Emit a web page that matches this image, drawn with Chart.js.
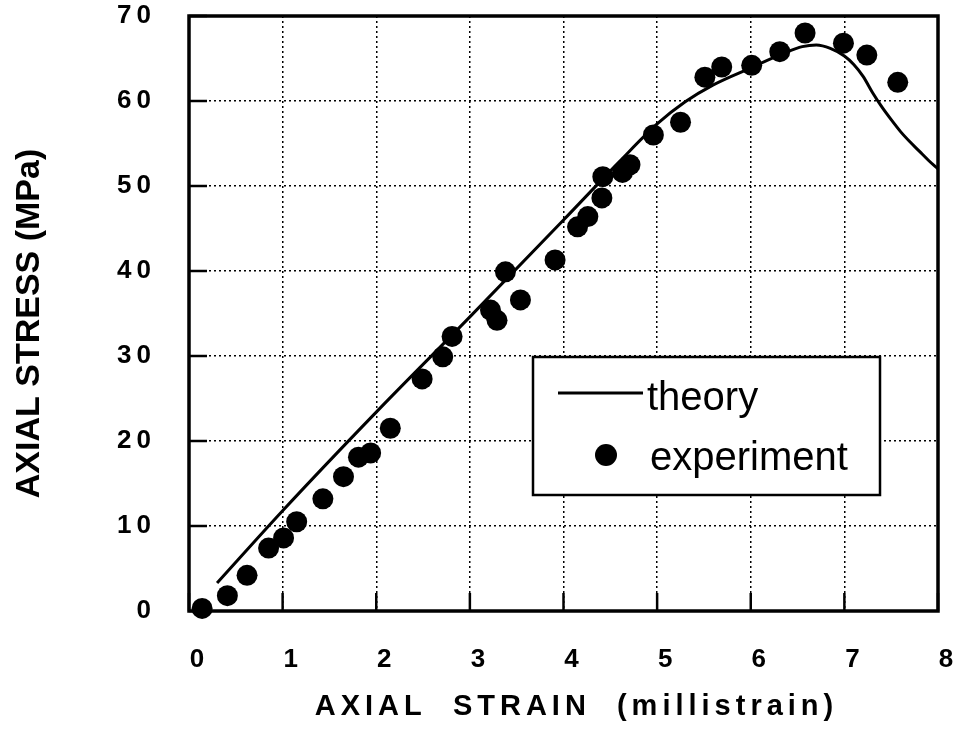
<!DOCTYPE html>
<html>
<head>
<meta charset="utf-8">
<script src="https://cdn.jsdelivr.net/npm/chart.js@4/dist/chart.umd.min.js"></script>
<style>
html,body{margin:0;padding:0;background:#fff;}
#wrap{width:959px;height:740px;}
</style>
</head>
<body>
<div id="wrap"><canvas id="c" width="959" height="740"></canvas></div>
<script>
// ---- data ----
const strainTheory = [0.3, 1, 2, 3, 4, 4.6, 5, 5.3, 5.6, 6, 6.35, 6.55, 6.7, 6.85, 7.0, 7.1, 7.2, 7.3, 7.4, 7.5, 7.6, 7.7, 7.8, 7.9, 8];
const stressTheory = [3.3, 11.8, 23.4, 34.6, 46.0, 52.9, 57.3, 59.9, 61.9, 63.9, 65.6, 66.4, 66.6, 66.2, 65.3, 64.3, 62.9, 61.0, 59.3, 57.8, 56.4, 55.2, 54.1, 53.0, 52.0];
const strainExp = [0.14, 0.41, 0.62, 0.85, 1.01, 1.15, 1.43, 1.65, 1.81, 1.94, 2.15, 2.49, 2.71, 2.81, 3.22, 3.29, 3.38, 3.54, 3.91, 4.15, 4.26, 4.41, 4.42, 4.63, 4.71, 4.96, 5.25, 5.51, 5.69, 6.01, 6.31, 6.58, 6.99, 7.24, 7.57];
const stressExp = [0.3, 1.8, 4.2, 7.4, 8.6, 10.5, 13.2, 15.8, 18.1, 18.6, 21.5, 27.3, 29.9, 32.3, 35.4, 34.2, 39.9, 36.6, 41.3, 45.2, 46.4, 48.6, 51.1, 51.6, 52.5, 56.0, 57.5, 62.8, 64.0, 64.2, 65.8, 68.0, 66.8, 65.4, 62.2];
const xTicks = [0, 1, 2, 3, 4, 5, 6, 7, 8];
const yTicks = [0, 10, 20, 30, 40, 50, 60, 70];
const seriesNames = ['theory', 'experiment'];
const xTitle = 'AXIAL  STRAIN  (millistrain)';
const yTitle = 'AXIAL STRESS (MPa)';

const FONT = '"Liberation Sans", Arial, Helvetica, sans-serif';

function patchText(scale, method, spacing, dx, dy) {
  const orig = scale[method];
  scale[method] = function (...args) {
    const c = this.ctx;
    const prev = c.letterSpacing;
    c.save();
    c.translate(dx, dy);
    c.letterSpacing = spacing;
    orig.apply(this, args);
    c.letterSpacing = prev;
    c.restore();
  };
}

function noPad(s) { s.paddingTop = 0; s.paddingBottom = 0; s.paddingLeft = 0; s.paddingRight = 0; }

const decorPlugin = {
  id: 'decor',
  beforeDraw(chart) {
    if (!chart.$patched) {
      patchText(chart.scales.y, 'drawLabels', '5px', 0, 0);
      patchText(chart.scales.y, 'drawTitle', '0px', 0, 10);
      patchText(chart.scales.x, 'drawTitle', '5px', 13, 0);
      chart.$patched = true;
    }
  },
  beforeDatasetsDraw(chart) {
    const {ctx, chartArea: a, scales: {x, y}} = chart;
    ctx.save();
    ctx.strokeStyle = '#000';
    ctx.lineWidth = 2.5;
    ctx.setLineDash([]);
    xTicks.forEach(v => {
      const px = x.getPixelForValue(v);
      ctx.beginPath(); ctx.moveTo(px, a.bottom); ctx.lineTo(px, a.bottom - 18); ctx.stroke();
    });
    yTicks.forEach(v => {
      const py = y.getPixelForValue(v);
      ctx.beginPath(); ctx.moveTo(a.left, py); ctx.lineTo(a.left + 18, py); ctx.stroke();
    });
    ctx.lineWidth = 3.5;
    ctx.strokeRect(a.left, a.top, a.right - a.left, a.bottom - a.top);
    ctx.restore();
  },
  afterDatasetsDraw(chart) {
    const {ctx} = chart;
    ctx.save();
    ctx.setLineDash([]);
    ctx.fillStyle = '#fff';
    ctx.fillRect(533, 357, 347, 138);
    ctx.strokeStyle = '#000';
    ctx.lineWidth = 2.5;
    ctx.strokeRect(533, 357, 347, 138);
    ctx.lineWidth = 3;
    ctx.beginPath(); ctx.moveTo(558, 393); ctx.lineTo(643, 393); ctx.stroke();
    ctx.fillStyle = '#000';
    ctx.beginPath(); ctx.arc(606, 455, 11, 0, Math.PI * 2); ctx.fill();
    ctx.font = '40px ' + FONT;
    ctx.textBaseline = 'alphabetic';
    ctx.textAlign = 'left';
    ctx.fillText(seriesNames[0], 647, 410);
    ctx.fillText(seriesNames[1], 650, 470);
    ctx.restore();
  }
};

new Chart(document.getElementById('c'), {
  type: 'scatter',
  data: {
    datasets: [
      {
        label: seriesNames[0],
        data: strainTheory.map((v, i) => ({x: v, y: stressTheory[i]})),
        showLine: true,
        borderColor: '#000',
        borderWidth: 3,
        pointRadius: 0,
        pointHoverRadius: 0,
        cubicInterpolationMode: 'monotone',
        fill: false,
        clip: false,
        order: 2
      },
      {
        label: seriesNames[1],
        data: strainExp.map((v, i) => ({x: v, y: stressExp[i]})),
        showLine: false,
        backgroundColor: '#000',
        borderColor: '#000',
        borderWidth: 0,
        pointRadius: 10.5,
        pointHoverRadius: 10.5,
        clip: false,
        order: 1
      }
    ]
  },
  options: {
    responsive: false,
    animation: false,
    events: [],
    layout: {padding: {left: 0, right: 21, top: 16, bottom: 0}},
    plugins: {legend: {display: false}, tooltip: {enabled: false}},
    scales: {
      x: {
        type: 'linear',
        min: 0, max: 8,
        afterFit(s) { s.height = 129; noPad(s); },
        afterBuildTicks(s) { s.ticks = xTicks.map(v => ({value: v})); },
        grid: {color: '#000', lineWidth: 1.5, drawTicks: false},
        border: {display: false, dash: [2, 3]},
        ticks: {
          color: '#000',
          font: {family: FONT, size: 26, weight: 'bold', lineHeight: 1.2},
          padding: 33,
          labelOffset: 8,
          maxRotation: 0,
          autoSkip: false
        },
        title: {
          display: true,
          text: xTitle,
          color: '#000',
          font: {family: FONT, size: 29, weight: 'bold', lineHeight: 1},
          padding: {top: 0, bottom: 19}
        }
      },
      y: {
        type: 'linear',
        min: 0, max: 70,
        afterFit(s) { s.width = 189; noPad(s); },
        afterBuildTicks(s) { s.ticks = yTicks.map(v => ({value: v})); },
        grid: {color: '#000', lineWidth: 1.5, drawTicks: false},
        border: {display: false, dash: [2, 3]},
        ticks: {
          color: '#000',
          font: {family: FONT, size: 26, weight: 'bold', lineHeight: 1.2},
          padding: 33,
          autoSkip: false
        },
        title: {
          display: true,
          text: yTitle,
          color: '#000',
          font: {family: FONT, size: 34, weight: 'bold', lineHeight: 1},
          padding: {top: 13, bottom: 0}
        }
      }
    }
  },
  plugins: [decorPlugin]
});
</script>
</body>
</html>
